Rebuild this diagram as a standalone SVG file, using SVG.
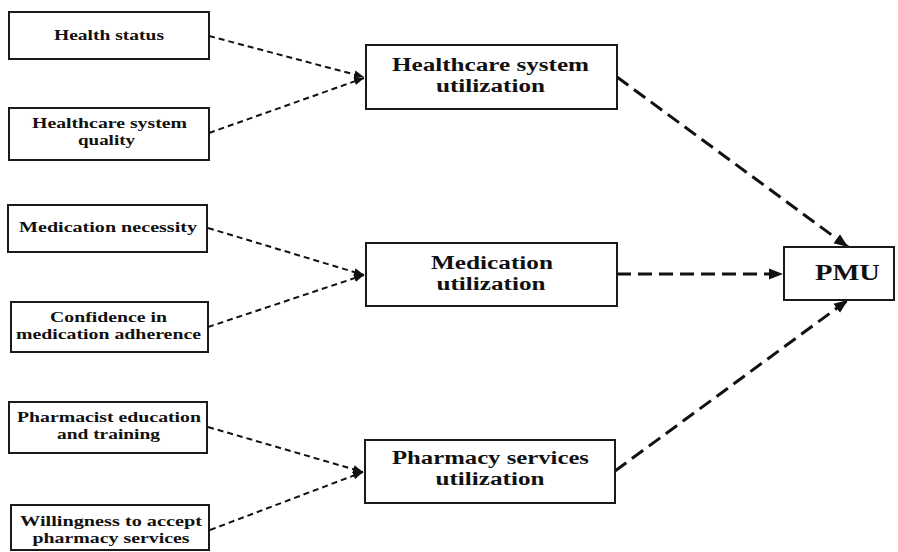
<svg xmlns="http://www.w3.org/2000/svg" width="898" height="552" viewBox="0 0 898 552">
<style>
.box{fill:#fff;stroke:#1a1a1a;stroke-width:2}
.t{font-family:"Liberation Serif","Times New Roman",serif;font-weight:bold;fill:#111;text-anchor:middle}
.s{font-size:15px}
.m{font-size:18.5px}
.thin{fill:none;stroke:#111;stroke-width:2;stroke-dasharray:6 4}
.thick{fill:none;stroke:#111;stroke-width:3;stroke-dasharray:14 7}
</style>
<defs>
<marker id="a1" markerUnits="userSpaceOnUse" markerWidth="10" markerHeight="10" viewBox="0 0 10 10" refX="10" refY="5" orient="auto"><path d="M0,1 L10,5 L0,9 Z" fill="#111"/></marker>
<marker id="a2" markerUnits="userSpaceOnUse" markerWidth="14" markerHeight="14" viewBox="0 0 14 14" refX="14" refY="7" orient="auto"><path d="M0,1.5 L14,7 L0,12.5 Z" fill="#111"/></marker>
</defs>
<g id="connectors">
<line class="thin" x1="209" y1="36" x2="364" y2="77" marker-end="url(#a1)"/>
<line class="thin" x1="209" y1="133" x2="364" y2="78" marker-end="url(#a1)"/>
<line class="thin" x1="208" y1="228" x2="364" y2="275" marker-end="url(#a1)"/>
<line class="thin" x1="208" y1="327" x2="364" y2="275" marker-end="url(#a1)"/>
<line class="thin" x1="208" y1="427" x2="363" y2="472" marker-end="url(#a1)"/>
<line class="thin" x1="210" y1="530" x2="363" y2="472" marker-end="url(#a1)"/>
<line class="thick" x1="617" y1="77" x2="848" y2="247" marker-end="url(#a2)"/>
<line class="thick" x1="617" y1="274" x2="783" y2="274" marker-end="url(#a2)"/>
<line class="thick" x1="615" y1="471" x2="848" y2="300" marker-end="url(#a2)"/>
</g>
<g id="health-status">
<rect class="box" x="9" y="12" width="200" height="47"/>
<text class="t s" x="109" y="40" textLength="110" lengthAdjust="spacingAndGlyphs">Health status</text>
</g>
<g id="healthcare-system-quality">
<rect class="box" x="9" y="108" width="200" height="52"/>
<text class="t s" x="109.5" y="128" textLength="155" lengthAdjust="spacingAndGlyphs">Healthcare system</text>
<text class="t s" x="106.5" y="145" textLength="57" lengthAdjust="spacingAndGlyphs">quality</text>
</g>
<g id="medication-necessity">
<rect class="box" x="8" y="205" width="199" height="47"/>
<text class="t s" x="108" y="232" textLength="178" lengthAdjust="spacingAndGlyphs">Medication necessity</text>
</g>
<g id="confidence">
<rect class="box" x="11" y="302" width="197" height="50"/>
<text class="t s" x="108.5" y="322" textLength="117" lengthAdjust="spacingAndGlyphs">Confidence in</text>
<text class="t s" x="108.5" y="339" textLength="185" lengthAdjust="spacingAndGlyphs">medication adherence</text>
</g>
<g id="pharmacist-education">
<rect class="box" x="9" y="402" width="198" height="51"/>
<text class="t s" x="109" y="422" textLength="184" lengthAdjust="spacingAndGlyphs">Pharmacist education</text>
<text class="t s" x="108.5" y="439" textLength="103" lengthAdjust="spacingAndGlyphs">and training</text>
</g>
<g id="willingness">
<rect class="box" x="11" y="505" width="198" height="45"/>
<text class="t s" x="111" y="526" textLength="182" lengthAdjust="spacingAndGlyphs">Willingness to accept</text>
<text class="t s" x="111" y="543" textLength="157" lengthAdjust="spacingAndGlyphs">pharmacy services</text>
</g>
<g id="healthcare-system-utilization">
<rect class="box" x="366" y="45" width="251" height="64"/>
<text class="t m" x="490.5" y="71" textLength="197" lengthAdjust="spacingAndGlyphs">Healthcare system</text>
<text class="t m" x="490.5" y="92" textLength="109" lengthAdjust="spacingAndGlyphs">utilization</text>
</g>
<g id="medication-utilization">
<rect class="box" x="366" y="243" width="251" height="63"/>
<text class="t m" x="492" y="269" textLength="122" lengthAdjust="spacingAndGlyphs">Medication</text>
<text class="t m" x="491" y="290" textLength="109" lengthAdjust="spacingAndGlyphs">utilization</text>
</g>
<g id="pharmacy-services-utilization">
<rect class="box" x="365" y="440" width="250" height="63"/>
<text class="t m" x="490.5" y="464" textLength="197" lengthAdjust="spacingAndGlyphs">Pharmacy services</text>
<text class="t m" x="490" y="485" textLength="109" lengthAdjust="spacingAndGlyphs">utilization</text>
</g>
<g id="pmu">
<rect class="box" x="784" y="247" width="110" height="53"/>
<text class="t" x="847.5" y="280" font-size="24" textLength="65" lengthAdjust="spacingAndGlyphs">PMU</text>
</g>
</svg>
